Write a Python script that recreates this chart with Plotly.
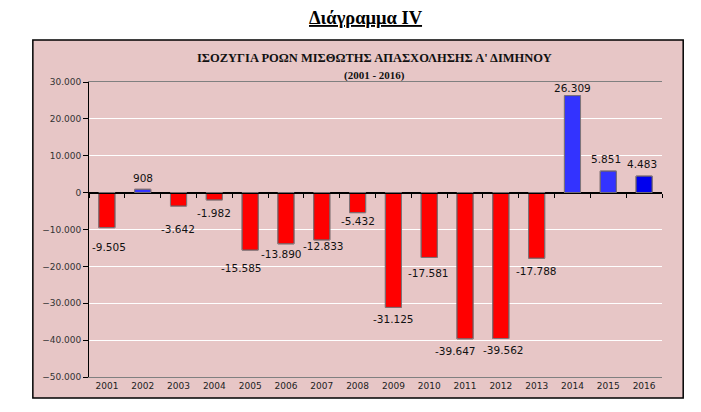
import plotly.graph_objects as go

# data
years = [str(y) for y in range(2001, 2017)]
balance = [-9505, 908, -3642, -1982, -15585, -13890, -12833, -5432,
           -31125, -17581, -39647, -39562, -17788, 26309, 5851, 4483]
y_ticks = [30000, 20000, 10000, 0, -10000, -20000, -30000, -40000, -50000]

chart_title = "ΙΣΟΖΥΓΙΑ ΡΟΩΝ ΜΙΣΘΩΤΗΣ ΑΠΑΣΧΟΛΗΣΗΣ Α' ΔΙΜΗΝΟΥ"
chart_subtitle = "(2001 - 2016)"
page_title = "Διάγραμμα IV"

# data label nudges in px (the original labels were hand placed)
label_dx = [2, 0, -1, 0, -9, -4, 2, 0, 0, -1, -10, 3, 0, 0, -2, -2]
label_dy = [19, 11, 23, 13, 18, 10, 6, 8, 11.5, 16, 12, 11, 13, 8, 12, 12]

# red for outflow years, blue for positive ones (last bar a bit darker)
bar_colors = ["#FF0000" if v < 0 else "#3333FF" for v in balance]
bar_colors[-1] = "#0000EE"

fig = go.Figure()

fig.add_trace(go.Bar(
    x=years, y=balance,
    marker=dict(color=bar_colors, line=dict(color="#1a0000", width=1)),
    hoverinfo="x+y",
))

# invisible copy just to carry the tick marks along the zero line
fig.add_trace(go.Bar(
    x=years, y=balance, xaxis="x2",
    marker=dict(color="rgba(0,0,0,0)"),
    hoverinfo="skip", showlegend=False,
))

# value labels, greek style thousands separator
# (x given as category index, since "2001" strings would be read as numbers)
value_labels = []
for i, (v, dx, dy) in enumerate(zip(balance, label_dx, label_dy)):
    value_labels.append(dict(
        x=i, y=v, xref="x", yref="y",
        text=f"{v:,}".replace(",", "."),
        showarrow=False, yanchor="middle",
        xshift=dx, yshift=dy if v > 0 else -dy,
        font=dict(family="DejaVu Sans", size=10.5, color="#111111"),
    ))

# the page body adds 8px, so margins are shifted by that much
fig.update_layout(
    width=701, height=412,
    margin=dict(l=81, r=47, t=74, b=43),
    paper_bgcolor="white",
    plot_bgcolor="#C6C6C6",
    separators=",.",
    showlegend=False,
    bargap=0.55,
    xaxis=dict(
        type="category",
        range=[-0.5, len(years) - 0.5],
        showgrid=False,
        ticks="",
        tickfont=dict(family="DejaVu Sans", size=9, color="#222222"),
        showline=True, linecolor="#808080", linewidth=1, mirror=True,
    ),
    xaxis2=dict(
        type="category",
        overlaying="x",
        matches="x",
        anchor="free",
        position=0.625,
        showticklabels=False,
        showgrid=False,
        tickson="boundaries",
        ticks="outside", ticklen=4, tickcolor="black",
        showline=True, linecolor="black", linewidth=1,
    ),
    yaxis=dict(
        range=[-50000, 30000],
        tickvals=y_ticks,
        tickformat=",d",
        tickfont=dict(family="DejaVu Sans", size=9, color="#333333"),
        gridcolor="white", gridwidth=1.2,
        zeroline=True, zerolinecolor="black", zerolinewidth=1,
        showline=True, linecolor="black", linewidth=1,
        ticks="outside", ticklen=5, tickcolor="black",
    ),
    shapes=[
        # pink chart panel behind the plot
        dict(type="rect", xref="paper", yref="paper", layer="below",
             x0=-0.098, x1=1.037, y0=-0.071, y1=1.142,
             fillcolor="#E7C6C6", line=dict(color="black", width=1.5)),
    ],
    annotations=value_labels + [
        dict(text="<u><b>" + page_title + "</b></u>", xref="paper", yref="paper",
             x=0.483, y=1.0, yanchor="middle", showarrow=False, yshift=64,
             font=dict(family="Liberation Serif", size=18.5, color="black")),
        dict(text="<b>" + chart_title + "</b>", xref="paper", yref="paper",
             x=0.499, y=1.0, yanchor="middle", showarrow=False, yshift=24,
             font=dict(family="Liberation Serif", size=12.5, color="#111111")),
        dict(text="<b>" + chart_subtitle + "</b>", xref="paper", yref="paper",
             x=0.499, y=1.0, yanchor="middle", showarrow=False, yshift=7,
             font=dict(family="Liberation Serif", size=11, color="#111111")),
    ],
)

fig.write_html("out.html")
